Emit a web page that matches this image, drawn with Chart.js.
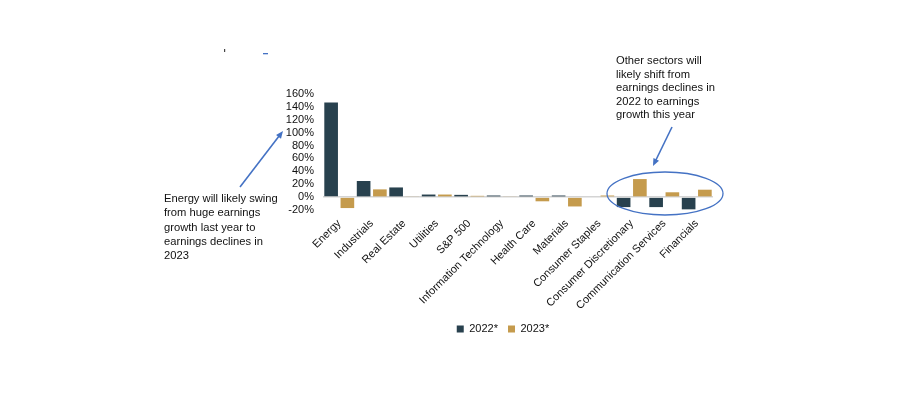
<!DOCTYPE html>
<html>
<head>
<meta charset="utf-8">
<script src="https://cdn.jsdelivr.net/npm/chart.js@4.4.0/dist/chart.umd.min.js"></script>
<style>
   html, body { margin: 0; padding: 0; background: #ffffff; }
   #wrap { width: 900px; height: 395px; position: relative; }
</style>
</head>
<body>
<div id="wrap"><canvas id="earnings_chart"></canvas></div>
<script>
// Sectors and earnings growth per year (percent)
const sectors = ["Energy", "Industrials", "Real Estate", "Utilities", "S&P 500",
   "Information Technology", "Health Care", "Materials", "Consumer Staples",
   "Consumer Discretionary", "Communication Services", "Financials"];
const growth2022 = [147, 25, 15, 4, 3.5, 2.5, 2.5, 2.5, 0, -15.5, -15.5, -19];
const growth2023 = [-17, 12, 1, 4, 2, 1, -6.5, -14.5, 2.5, 28, 7.5, 11.5];
const seriesNames = ["2022*", "2023*"];
const yTicks = [-20, 0, 20, 40, 60, 80, 100, 120, 140, 160];

const leftNote = ["Energy will likely swing", "from huge earnings",
   "growth last year to", "earnings declines in", "2023"];
const rightNote = ["Other sectors will", "likely shift from",
   "earnings declines in", "2022 to earnings", "growth this year"];

const darkColor = "#28414e";
const goldColor = "#c59b4d";
const noteBlue = "#4472c4";
const fontFamily = "'Liberation Sans', Arial, sans-serif";

// Draw an arrow with a filled head at (x2, y2)
function drawArrow(ctx, x1, y1, x2, y2) {
   let angle = Math.atan2(y2 - y1, x2 - x1);
   let head = 8;
   ctx.beginPath();
   ctx.moveTo(x1, y1);
   ctx.lineTo(x2 - Math.cos(angle) * head * 0.8, y2 - Math.sin(angle) * head * 0.8);
   ctx.stroke();
   ctx.beginPath();
   ctx.moveTo(x2, y2);
   ctx.lineTo(x2 - head * Math.cos(angle - 0.4), y2 - head * Math.sin(angle - 0.4));
   ctx.lineTo(x2 - head * Math.cos(angle + 0.4), y2 - head * Math.sin(angle + 0.4));
   ctx.closePath();
   ctx.fill();
}

// Callout texts, arrows and the ellipse round the last sectors
const notesPlugin = {
   id: "notes",
   afterDraw(chart) {
      const ctx = chart.ctx;
      ctx.save();
      ctx.font = "11.2px " + fontFamily;
      ctx.fillStyle = "#111111";
      ctx.textBaseline = "middle";
      leftNote.forEach((line, i) => ctx.fillText(line, 164, 199 + i * 14.3));
      rightNote.forEach((line, i) => ctx.fillText(line, 616, 61 + i * 13.6));

      ctx.strokeStyle = noteBlue;
      ctx.fillStyle = noteBlue;
      ctx.lineWidth = 1.6;
      drawArrow(ctx, 240, 187, 283, 131);
      drawArrow(ctx, 672, 127, 653, 166);

      ctx.lineWidth = 1.3;
      ctx.beginPath();
      ctx.ellipse(665, 193.5, 58, 21.5, 0, 0, Math.PI * 2);
      ctx.stroke();

      // small stray marks near the top of the slide
      ctx.fillStyle = "#444444";
      ctx.fillRect(224, 49, 1.2, 3);
      ctx.fillStyle = noteBlue;
      ctx.fillRect(263, 53, 5, 1.3);
      ctx.restore();
   }
};

const canvas = document.querySelector("#earnings_chart").getContext("2d");

const chart = new Chart(canvas, {
   type: "bar",
   data: {
      labels: sectors,
      datasets: [{
         label: seriesNames[0],
         data: growth2022,
         backgroundColor: darkColor,
         borderWidth: 0
      }, {
         label: seriesNames[1],
         data: growth2023,
         backgroundColor: goldColor,
         borderWidth: 0
      }]
   },
   options: {
      responsive: true,
      maintainAspectRatio: false,
      animation: false,
      events: [],
      datasets: {
         bar: { categoryPercentage: 1.0, barPercentage: 0.84 }
      },
      // left/right padding keeps the legend centred near x=503
      layout: { padding: { left: 106, right: 0, top: 94, bottom: 50.5 } },
      plugins: {
         legend: {
            position: "bottom",
            labels: {
               boxWidth: 7,
               boxHeight: 7,
               padding: 10,
               color: "#111111",
               font: { family: fontFamily, size: 11 }
            }
         },
         tooltip: { enabled: false }
      },
      scales: {
         x: {
            afterFit: (scale) => { scale.height = 103.5; },
            grid: { display: false, drawTicks: false },
            border: { display: false },
            ticks: {
               autoSkip: false,
               maxRotation: 45,
               minRotation: 45,
               padding: 7,
               color: "#111111",
               font: { family: fontFamily, size: 11 }
            }
         },
         y: {
            min: -20,
            max: 160,
            afterFit: (scale) => { scale.width = 323 - 106; },
            afterBuildTicks: (scale) => { scale.ticks = yTicks.map(v => ({ value: v })); },
            grid: {
               drawTicks: false,
               color: (c) => c.tick && c.tick.value === 0 ? "#d4d4d4" : "rgba(0,0,0,0)",
               lineWidth: 1.5
            },
            border: { display: false },
            ticks: {
               autoSkip: false,
               padding: 9,
               color: "#111111",
               font: { family: fontFamily, size: 11 },
               callback: (v) => v + "%"
            }
         },
         // empty right-hand axis that reserves the blank space on the right
         spacer: {
            type: "linear",
            position: "right",
            afterFit: (scale) => { scale.width = 187; },
            grid: { display: false, drawTicks: false },
            border: { display: false },
            ticks: { display: false }
         }
      }
   },
   plugins: [notesPlugin]
});
</script>
</body>
</html>
